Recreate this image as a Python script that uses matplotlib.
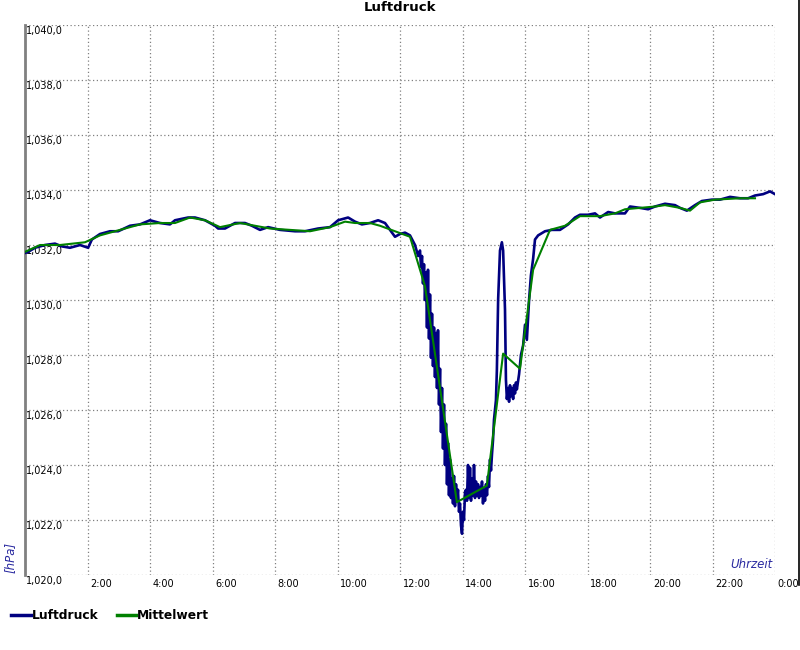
import matplotlib
matplotlib.use("Agg")
import matplotlib.pyplot as plt
import matplotlib.transforms as mtransforms
from matplotlib.lines import Line2D

# Luftdruck (Stunden, hPa)
druck_zeit = [0.0, 0.1, 0.32, 0.64, 0.96, 1.18, 1.44, 1.76, 2.02, 2.14, 2.4, 2.72, 2.98,
              3.36, 3.68, 4.0, 4.32, 4.64, 4.8, 5.22, 5.44, 5.76, 6.08, 6.18, 6.4, 6.72,
              7.04, 7.26, 7.52, 7.78, 8.16, 8.64, 8.96, 9.38, 9.76, 10.02, 10.34, 10.56,
              10.78, 11.04, 11.3, 11.52, 11.68, 11.84, 12.0, 12.16, 12.32, 12.48, 12.58,
              12.64, 12.672, 12.704, 12.736, 12.768, 12.8, 12.832, 12.864, 12.896, 12.928,
              12.96, 12.992, 13.024, 13.056, 13.088, 13.12, 13.152, 13.184, 13.216, 13.248,
              13.28, 13.312, 13.344, 13.376, 13.408, 13.44, 13.472, 13.504, 13.536, 13.568,
              13.6, 13.632, 13.664, 13.696, 13.728, 13.76, 13.792, 13.824, 13.856, 13.888,
              13.92, 13.952, 13.984, 14.016, 14.048, 14.08, 14.112, 14.144, 14.176, 14.208,
              14.24, 14.272, 14.304, 14.336, 14.368, 14.4, 14.432, 14.464, 14.496, 14.528,
              14.56, 14.592, 14.624, 14.656, 14.688, 14.72, 14.752, 14.784, 14.816, 14.848,
              14.88, 14.912, 14.944, 14.976, 15.008,
              15.07, 15.1, 15.14, 15.2, 15.26, 15.3, 15.36,
              15.39, 15.42, 15.46, 15.49, 15.52, 15.55, 15.58, 15.62, 15.65, 15.68, 15.71,
              15.74, 15.81, 15.87, 15.94, 16.0,
              16.06, 16.13, 16.19, 16.26, 16.32, 16.42, 16.64, 16.86, 17.12, 17.38, 17.6,
              17.76, 18.02, 18.24, 18.4, 18.66, 18.88, 19.2, 19.36, 19.68, 19.94, 20.16,
              20.48, 20.8, 20.96, 21.18, 21.44, 21.66, 21.98, 22.24, 22.56, 22.88, 23.14,
              23.36, 23.62, 23.84, 24.0]
druck = [1031.71, 1031.75, 1031.9, 1032.0, 1032.05, 1031.95, 1031.9, 1032.0, 1031.9, 1032.2,
         1032.4, 1032.5, 1032.5, 1032.7, 1032.75, 1032.9, 1032.8, 1032.75, 1032.9, 1033.0,
         1033.0, 1032.9, 1032.7, 1032.6, 1032.6, 1032.8, 1032.8, 1032.7, 1032.55, 1032.65,
         1032.55, 1032.5, 1032.5, 1032.6, 1032.65, 1032.9, 1033.0, 1032.85, 1032.75, 1032.8,
         1032.9, 1032.8, 1032.55, 1032.3, 1032.4, 1032.45, 1032.35, 1032.0, 1031.6,
         1031.8, 1031.2, 1031.6, 1030.6, 1031.3, 1030.0, 1031.0, 1029.0, 1031.1, 1028.6,
         1030.2, 1027.9, 1029.5, 1027.6, 1029.0, 1027.2, 1028.8, 1026.8, 1028.9, 1026.2,
         1027.5, 1025.2, 1026.8, 1024.6, 1026.2, 1024.0, 1025.5, 1023.3, 1024.8, 1022.9,
         1024.2, 1022.8, 1023.5, 1022.6, 1023.6, 1022.5, 1023.3, 1022.7, 1023.1, 1022.3,
         1022.6, 1021.8, 1021.5, 1022.3, 1022.0, 1023.0, 1023.1, 1022.7, 1024.0, 1022.8,
         1023.9, 1022.7, 1023.5, 1022.9, 1024.0, 1022.8, 1023.4, 1022.9, 1023.3, 1022.8,
         1023.2, 1022.9, 1023.4, 1022.6, 1023.1, 1022.7, 1023.3, 1022.9, 1023.6, 1023.2,
         1024.2, 1023.8, 1024.4, 1024.9, 1025.65,
         1026.35, 1027.45, 1030.0, 1031.8, 1032.1, 1031.8, 1029.65,
         1027.1, 1026.4, 1026.8, 1026.3, 1026.9, 1026.5, 1026.8, 1026.4, 1026.9, 1026.6,
         1027.0, 1026.75, 1027.3, 1028.0, 1028.35, 1029.1,
         1028.55, 1030.0, 1030.9, 1031.5, 1032.2, 1032.35,
         1032.5, 1032.55, 1032.55, 1032.75, 1033.0, 1033.1, 1033.1, 1033.15, 1033.0, 1033.2,
         1033.15, 1033.15, 1033.4, 1033.35, 1033.3, 1033.4, 1033.5, 1033.45, 1033.35, 1033.25,
         1033.45, 1033.6, 1033.65, 1033.65, 1033.75, 1033.7, 1033.7, 1033.8, 1033.85, 1033.95,
         1033.85]

# Mittelwert
mittel_zeit = [0.0, 0.48, 1.12, 1.92, 2.4, 3.04, 3.68, 4.32, 4.8, 5.28, 5.76, 6.24, 6.88,
               7.36, 7.84, 8.48, 9.12, 9.76, 10.24, 10.56, 11.04, 11.36, 11.84, 12.32, 12.8,
               13.82, 14.78, 15.3, 15.84, 16.26, 16.8, 17.28, 17.76, 18.4, 18.88, 19.2,
               19.68, 20.16, 20.48, 20.96, 21.28, 21.6, 22.08, 22.88, 23.36]
mittel = [1031.75, 1032.0, 1032.0, 1032.1, 1032.35, 1032.55, 1032.75, 1032.8, 1032.8, 1033.0,
          1032.9, 1032.65, 1032.8, 1032.7, 1032.6, 1032.55, 1032.5, 1032.65, 1032.85, 1032.8,
          1032.8, 1032.7, 1032.5, 1032.3, 1030.5, 1022.65, 1023.25, 1028.05, 1027.5, 1031.1,
          1032.55, 1032.7, 1033.05, 1033.05, 1033.15, 1033.3, 1033.35, 1033.4, 1033.45,
          1033.35, 1033.25, 1033.55, 1033.65, 1033.7, 1033.7]

y_ticks = [1020, 1022, 1024, 1026, 1028, 1030, 1032, 1034, 1036, 1038, 1040]
y_labels = ["1,020,0", "1,022,0", "1,024,0", "1,026,0", "1,028,0", "1,030,0",
            "1,032,0", "1,034,0", "1,036,0", "1,038,0", "1,040,0"]
x_ticks = [2, 4, 6, 8, 10, 12, 14, 16, 18, 20, 22, 24]
x_labels = ["2:00", "4:00", "6:00", "8:00", "10:00", "12:00", "14:00", "16:00",
            "18:00", "20:00", "22:00", "0:00"]

fig = plt.figure(figsize=(8, 6.5), dpi=100)
ax = fig.add_axes([0.03125, 0.1154, 0.9375, 0.8461])

ax.plot(druck_zeit, druck, color="#000080", linewidth=1.9, label="Luftdruck", zorder=3)
ax.plot(mittel_zeit, mittel, color="#008000", linewidth=1.5, label="Mittelwert", zorder=4)

ax.set_xlim(0, 24)
ax.set_ylim(1020, 1040)

ax.set_yticks(y_ticks)
ax.set_yticklabels(y_labels, fontsize=7, ha="left", va="top")
ax.set_xticks(x_ticks)
ax.set_xticklabels(x_labels, fontsize=7, ha="left", va="top")
ax.tick_params(axis="y", length=0, pad=-1)
ax.tick_params(axis="x", length=0, pad=3)
off = mtransforms.ScaledTranslation(2 / 72, 0, fig.dpi_scale_trans)
for lab in ax.get_xticklabels():
    lab.set_transform(lab.get_transform() + off)
offy = mtransforms.ScaledTranslation(0, -1 / 72, fig.dpi_scale_trans)
for lab in ax.get_yticklabels():
    lab.set_transform(lab.get_transform() + offy)

ax.grid(True, linestyle=(0, (1, 2)), color="#808080", linewidth=0.9)
for s in ["top", "right", "bottom"]:
    ax.spines[s].set_visible(False)
ax.spines["left"].set_color("#808080")
ax.spines["left"].set_linewidth(2)

ax.set_title("Luftdruck", fontsize=9.5, fontweight="bold", pad=10)

fig.text(0.012, 0.142, "[hPa]", rotation=90, style="italic", color="#2a2aa0",
         fontsize=8.5, ha="center", va="center")
fig.text(0.966, 0.121, "Uhrzeit", style="italic", color="#2a2aa0",
         fontsize=8.5, ha="right", va="bottom")

# rechter Rand
fig.add_artist(Line2D([0.9985, 0.9985], [0.1, 1.0], color="black", linewidth=1.2))

fig.legend(loc="lower left", bbox_to_anchor=(0.0, 0.026), ncol=2, frameon=False,
           handlelength=1.6, handletextpad=0.08, columnspacing=1.5,
           prop={"weight": "bold", "size": 8.8})
for h in fig.legends[0].get_lines():
    h.set_linewidth(2.5)

fig.savefig("out.png", dpi=100)
